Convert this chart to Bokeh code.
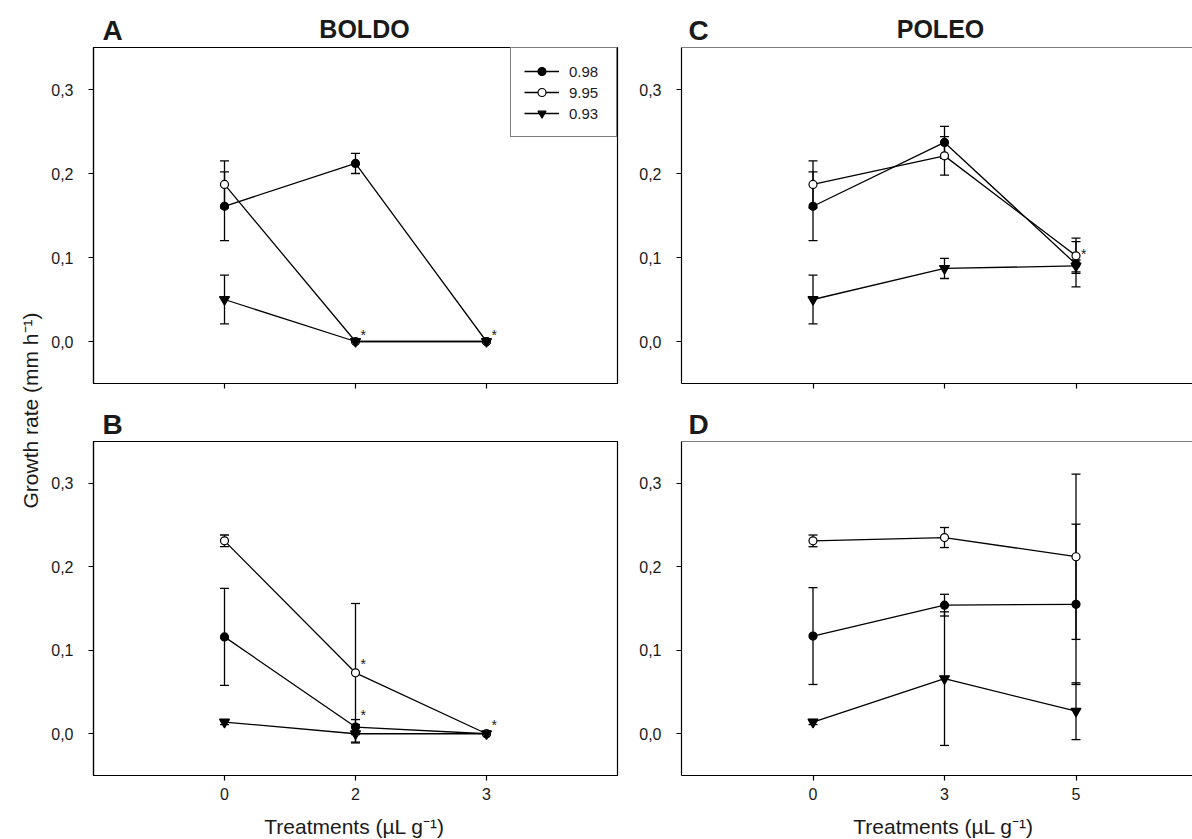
import math
from bokeh.plotting import figure
from bokeh.layouts import row, column
from bokeh.models import (Range1d, FixedTicker, CustomJSTickFormatter, Legend, LegendItem,
                          Whisker, TeeHead, ColumnDataSource, Span)
from bokeh.embed import file_html
from bokeh.resources import INLINE
from bokeh.core.properties import value

FONT = "Liberation Sans"

# ---------------- data ----------------
boldo_doses = ["0", "2", "3"]
poleo_doses = ["0", "3", "5"]
series_names = ["0.98", "9.95", "0.93"]

# Panel A (BOLDO, upper)
a_098 = [0.161, 0.212, 0.0]
a_098_err = [0.041, 0.012, 0.0]
a_995 = [0.187, 0.0, 0.0]
a_995_err = [0.028, 0.0, 0.0]
a_093 = [0.050, 0.0, 0.0]
a_093_err = [0.029, 0.0, 0.0]
a_star_idx = [1, 2]
a_star_val = [0.012, 0.012]

# Panel B (BOLDO, lower)
b_098 = [0.116, 0.008, 0.0]
b_098_err = [0.058, 0.009, 0.0]
b_995 = [0.231, 0.073, 0.0]
b_995_err = [0.007, 0.083, 0.0]
b_093 = [0.014, 0.0, 0.0]
b_093_err = [0.003, 0.011, 0.0]
b_star_idx = [1, 1, 2]
b_star_val = [0.088, 0.027, 0.015]

# Panel C (POLEO, upper)
c_098 = [0.161, 0.237, 0.092]
c_098_err = [0.041, 0.019, 0.027]
c_995 = [0.187, 0.221, 0.102]
c_995_err = [0.028, 0.023, 0.021]
c_093 = [0.050, 0.087, 0.090]
c_093_err = [0.029, 0.012, 0.007]
c_star_idx = [2]
c_star_val = [0.109]

# Panel D (POLEO, lower)
d_098 = [0.117, 0.154, 0.155]
d_098_err = [0.058, 0.013, 0.096]
d_995 = [0.231, 0.235, 0.212]
d_995_err = [0.007, 0.012, 0.099]
d_093 = [0.014, 0.066, 0.027]
d_093_err = [0.003, 0.080, 0.034]
d_star_idx = []
d_star_val = []

y_ticks = [0.0, 0.1, 0.2, 0.3]
panel_letters = ["A", "B", "C", "D"]
panel_titles = ["BOLDO", "POLEO"]
y_label_text = "Growth rate (mm h\u207b\u00b9)"
x_label_text = "Treatments (\u00b5L g\u207b\u00b9)"

# ---------------- styling / geometry ----------------
STYLES = [
    dict(marker="circle", fill_color="black", size=8),
    dict(marker="circle", fill_color="white", size=8),
    dict(marker="inverted_triangle", fill_color="black", size=10),
]
Y0, Y1 = -0.05, 0.35
LW = 1.3
TXT = "#1a1a1a"

STRIP_W = 48          # y-title strip
LEFT_MB, LEFT_FW, LEFT_MR = 44, 524, 4
RIGHT_MB, RIGHT_FW = 60, 512
COL_W = LEFT_MB + LEFT_FW + LEFT_MR + RIGHT_MB + RIGHT_FW
TOP_FH, BOT_FH = 336, 334
HDR_TOP, HDR_MID, FOOT = 46, 41, 30
TOP_MB = (1, 16)      # top/bottom borders of upper panels
BOT_MB = (1, 34)
TOTAL_H = HDR_TOP + TOP_MB[0] + TOP_FH + TOP_MB[1] + HDR_MID + BOT_MB[0] + BOT_FH + BOT_MB[1] + FOOT
PX_PER_IDX_R = 131.5
BASE_SHIFT = 0.32     # text anchor sits this many ems above the wanted baseline


def make_panel(doses, means, errs, star_idx, star_val, show_xlabels,
               frame_w, frame_h, x_end, mb, full_frame, legend=False):
    p = figure(frame_width=frame_w, frame_height=frame_h,
               x_range=Range1d(-1, x_end), y_range=Range1d(Y0, Y1),
               output_backend="svg", toolbar_location=None, tools="",
               min_border_left=mb[0], min_border_right=mb[1],
               min_border_top=mb[2], min_border_bottom=mb[3])
    p.grid.visible = False
    p.background_fill_color = "white"
    p.border_fill_color = "white"
    if full_frame:
        p.outline_line_color = "black"
        p.outline_line_width = 1.2
        p.outline_line_alpha = 1.0
    else:
        p.outline_line_color = None
        p.add_layout(Span(location=Y1, dimension="width", line_color="black", line_width=1.2))

    idx = list(range(len(doses)))
    p.xaxis.ticker = FixedTicker(ticks=idx)
    p.xaxis.formatter = CustomJSTickFormatter(
        args=dict(labels=doses),
        code="const i = Math.round(tick); return (i >= 0 && i < labels.length) ? labels[i] : '';")
    p.yaxis.ticker = FixedTicker(ticks=y_ticks)
    p.yaxis.formatter = CustomJSTickFormatter(code="return tick.toFixed(1).replace('.', ',');")
    for ax in (p.xaxis[0], p.yaxis[0]):
        ax.axis_line_color = "black"
        ax.axis_line_width = 1.2
        ax.major_tick_line_color = "black"
        ax.major_tick_line_width = 1.2
        ax.major_tick_out = 5
        ax.major_tick_in = 0
        ax.minor_tick_line_color = None
        ax.major_label_text_font = FONT
        ax.major_label_text_font_size = "16px"
        ax.major_label_text_color = TXT
    p.yaxis.major_label_standoff = 15
    if show_xlabels:
        p.xaxis.major_label_standoff = 7
    else:
        p.xaxis.major_label_text_color = None
        p.xaxis.major_label_text_font_size = "8px"
        p.xaxis.major_label_standoff = 0

    line_rs = [p.line(idx, m, line_color="black", line_width=LW) for m in means]
    for m, e in zip(means, errs):
        xs = [i for i in idx if e[i] > 0]
        src = ColumnDataSource(dict(x=xs,
                                    upper=[m[i] + e[i] for i in xs],
                                    lower=[m[i] - e[i] for i in xs]))
        p.add_layout(Whisker(source=src, base="x", upper="upper", lower="lower",
                             line_color="black", line_width=LW,
                             upper_head=TeeHead(size=9, line_color="black", line_width=LW),
                             lower_head=TeeHead(size=9, line_color="black", line_width=LW)))
    sc_rs = [p.scatter(idx, m, marker=st["marker"], size=st["size"],
                       fill_color=st["fill_color"], line_color="black", line_width=1.2)
             for m, st in zip(means, STYLES)]
    if star_idx:
        p.text(x=star_idx, y=star_val, text=["*"] * len(star_idx),
               x_offset=5, y_offset=4, text_align="left", text_baseline="middle",
               text_font=value(FONT), text_font_size="14px", text_color=TXT)

    if legend:
        items = [LegendItem(label=n, renderers=[lr, sr])
                 for n, lr, sr in zip(series_names, line_rs, sc_rs)]
        lg = Legend(items=items, location="top_right", margin=0, padding=13, spacing=1,
                    glyph_width=35, glyph_height=20, label_standoff=10, label_width=34,
                    label_text_font=FONT, label_text_font_size="15px",
                    label_text_color=TXT,
                    border_line_color="black", border_line_width=1.2,
                    background_fill_color="white", background_fill_alpha=1.0)
        p.add_layout(lg)
    return p


def text_strip(width, height, x0, items):
    """A blank strip whose x coordinates equal page pixels; y counted from its top."""
    s = figure(frame_width=width, frame_height=height, x_range=Range1d(x0, x0 + width),
               y_range=Range1d(height, 0), output_backend="svg", toolbar_location=None,
               tools="", min_border=0, x_axis_type=None, y_axis_type=None)
    s.grid.visible = False
    s.outline_line_color = None
    for (x, base_y, t, size, bold, align) in items:
        y = base_y - BASE_SHIFT * size
        s.text(x=[x], y=[y], text=[t], text_align=align, text_baseline="alphabetic",
               text_font=value(FONT), text_font_size=f"{size}px",
               text_font_style="bold" if bold else "normal", text_color=TXT)
    return s


RIGHT_XEND = -1 + RIGHT_FW / PX_PER_IDX_R

pA = make_panel(boldo_doses, [a_098, a_995, a_093], [a_098_err, a_995_err, a_093_err],
                a_star_idx, a_star_val, False, LEFT_FW, TOP_FH, 3.0,
                (LEFT_MB, LEFT_MR) + TOP_MB, True, legend=True)
pC = make_panel(poleo_doses, [c_098, c_995, c_093], [c_098_err, c_995_err, c_093_err],
                c_star_idx, c_star_val, False, RIGHT_FW, TOP_FH, RIGHT_XEND,
                (RIGHT_MB, 0) + TOP_MB, False)
pB = make_panel(boldo_doses, [b_098, b_995, b_093], [b_098_err, b_995_err, b_093_err],
                b_star_idx, b_star_val, True, LEFT_FW, BOT_FH, 3.0,
                (LEFT_MB, LEFT_MR) + BOT_MB, True)
pD = make_panel(poleo_doses, [d_098, d_995, d_093], [d_098_err, d_995_err, d_093_err],
                d_star_idx, d_star_val, True, RIGHT_FW, BOT_FH, RIGHT_XEND,
                (RIGHT_MB, 0) + BOT_MB, False)

# page-pixel anchors for the texts around the frames
left_frame_x = STRIP_W + LEFT_MB
right_frame_x = STRIP_W + LEFT_MB + LEFT_FW + LEFT_MR + RIGHT_MB
left_center = left_frame_x + LEFT_FW / 2
right_center = right_frame_x + 2 * PX_PER_IDX_R  # centre of the full POLEO frame (x index 1)

hdr_top = text_strip(COL_W, HDR_TOP, STRIP_W, [
    (left_frame_x + 10, 39, panel_letters[0], 28, True, "left"),
    (left_center + 10, 36, panel_titles[0], 25, True, "center"),
    (right_frame_x + 8, 39, panel_letters[2], 28, True, "left"),
    (right_center - 3, 36, panel_titles[1], 25, True, "center"),
])
hdr_mid = text_strip(COL_W, HDR_MID, STRIP_W, [
    (left_frame_x + 10, HDR_MID - 7, panel_letters[1], 28, True, "left"),
    (right_frame_x + 8, HDR_MID - 7, panel_letters[3], 28, True, "left"),
])
footer = text_strip(COL_W, FOOT, STRIP_W, [
    (left_center, 24, x_label_text, 21, False, "center"),
    (right_center, 24, x_label_text, 21, False, "center"),
])

# y-axis title strip
p0 = figure(frame_width=STRIP_W, frame_height=TOTAL_H, x_range=Range1d(0, STRIP_W),
            y_range=Range1d(TOTAL_H, 0), output_backend="svg", toolbar_location=None,
            tools="", min_border=0, x_axis_type=None, y_axis_type=None)
p0.grid.visible = False
p0.outline_line_color = None
p0.text(x=[30], y=[410], text=[y_label_text], angle=math.pi / 2,
        text_font=value(FONT), text_font_size="21px", text_align="center",
        text_baseline="middle", text_color=TXT)

layout = row(p0, column(hdr_top, row(pA, pC), hdr_mid, row(pB, pD), footer))

open("out.html", "w").write(file_html(layout, INLINE))
